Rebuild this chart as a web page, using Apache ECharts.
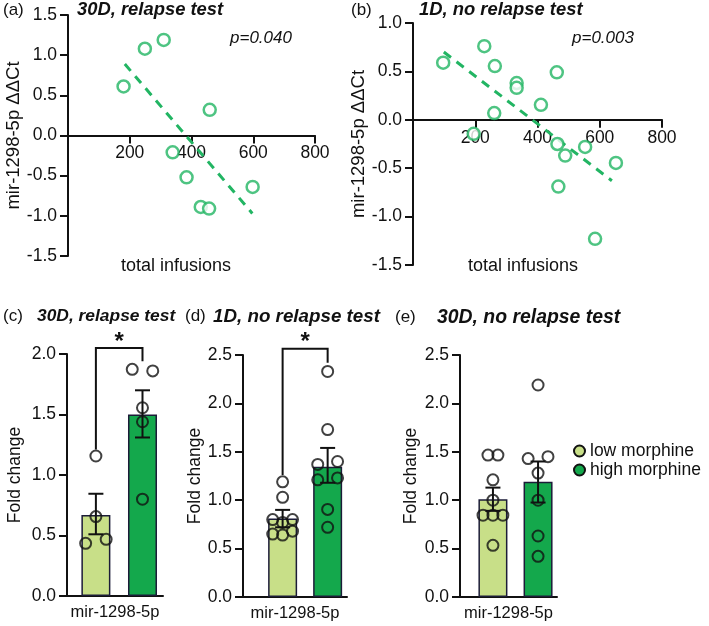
<!DOCTYPE html>
<html>
<head>
<meta charset="utf-8">
<script src="https://cdn.jsdelivr.net/npm/echarts@6/dist/echarts.min.js"></script>
<style>
  html, body { margin: 0; padding: 0; background: #fff; }
  #chart { width: 709px; height: 626px; }
</style>
</head>
<body>
<div id="chart"></div>
<script>
// (a) 30D, relapse test - scatter
const aX = [180, 249, 310, 459, 339, 384, 430, 457, 598];
const aY = [0.61, 1.08, 1.19, 0.32, -0.21, -0.52, -0.89, -0.91, -0.64];
const aFitX = [184, 597];
const aFitY = [0.89, -0.97];

// (b) 1D, no relapse test - scatter
const bX = [97, 229, 263, 333, 333, 261, 195, 411, 462, 464, 489, 467, 553, 652, 585];
const bY = [0.59, 0.76, 0.555, 0.38, 0.33, 0.07, -0.145, 0.155, 0.49, -0.25, -0.37, -0.69, -0.28, -0.445, -1.23];
const bFitX = [99, 639];
const bFitY = [0.70, -0.63];

// bar panels: group 1 = low morphine, group 2 = high morphine
const groups = ['low morphine', 'high morphine'];
const cMean = [0.67, 1.50];
const cSemLo = [0.51, 1.31];
const cSemHi = [0.845, 1.70];
const cLowX = [1, 1, 0.78, 1.22];
const cLowY = [1.157, 0.656, 0.435, 0.468];
const cHighX = [1.78, 2.22, 2, 2, 2];
const cHighY = [1.873, 1.86, 1.556, 1.44, 0.80];

const dMean = [0.81, 1.345];
const dSemLo = [0.72, 1.18];
const dSemHi = [0.90, 1.54];
const dLowX = [1, 1, 0.78, 1.22, 1, 0.78, 1, 1.22];
const dLowY = [1.19, 1.03, 0.80, 0.80, 0.77, 0.65, 0.64, 0.68];
const dHighX = [2, 2, 1.78, 2.22, 1.78, 2.22, 2, 2];
const dHighY = [2.33, 1.73, 1.37, 1.40, 1.21, 1.23, 0.905, 0.72];

const eMean = [1.01, 1.19];
const eSemLo = [0.89, 0.976];
const eSemHi = [1.13, 1.40];
const eLowX = [0.89, 1.11, 1, 1, 0.78, 1, 1.22, 1];
const eLowY = [1.466, 1.466, 1.21, 1.0, 0.845, 0.845, 0.845, 0.534];
const eHighX = [2, 1.78, 2.22, 2, 2, 2, 2];
const eHighY = [2.19, 1.43, 1.45, 1.28, 1.0, 0.63, 0.42];

// significance brackets: [x1, x2, leftBottom, rightBottom, top]
const cBracket = [1, 2, 1.21, 1.94, 2.05];
const dBracket = [1, 2, 1.26, 2.42, 2.565];

const FONT = 'Liberation Sans, Arial, sans-serif';
const INK = '#111';
const scatterGreen = '#22b563';
const lowColor = '#c8df88';
const highColor = '#14a84c';

const zip = (xs, ys) => xs.map((x, i) => [x, ys[i]]);

const axisBase = {
  axisLine: { lineStyle: { color: INK, width: 2 } },
  axisTick: { length: 8, lineStyle: { color: INK, width: 2 } },
  axisLabel: { color: INK, fontSize: 17.5, fontFamily: FONT, margin: 11 },
  splitLine: { show: false },
  nameTextStyle: { color: INK, fontSize: 17.5, fontFamily: FONT }
};
const fmt1 = v => v.toFixed(1);

// x axis of the scatter panels sits on y = 0
function scatterX(idx, gridH, yMin, yMax) {
  return Object.assign({}, axisBase, {
    type: 'value', gridIndex: idx, min: 0, max: 800, interval: 200,
    axisLine: { onZero: false, lineStyle: { color: INK, width: 2 } },
    offset: -gridH * (0 - yMin) / (yMax - yMin),
    axisLabel: Object.assign({}, axisBase.axisLabel, { margin: 9, formatter: v => v === 0 ? '' : v })
  });
}
function yAx(idx, min, max, name, gap, nameSize) {
  return Object.assign({}, axisBase, {
    type: 'value', gridIndex: idx, min: min, max: max, interval: 0.5,
    name: name, nameLocation: 'middle', nameGap: gap,
    nameTextStyle: { color: INK, fontSize: nameSize, fontFamily: FONT },
    axisLabel: Object.assign({}, axisBase.axisLabel, { formatter: fmt1 })
  });
}
function barX(idx, min, max) {
  return Object.assign({}, axisBase, {
    type: 'value', gridIndex: idx, min: min, max: max,
    axisTick: { show: false }, axisLabel: { show: false },
    name: 'mir-1298-5p', nameLocation: 'middle', nameGap: 8,
    nameTextStyle: { color: INK, fontSize: 16.5, fontFamily: FONT }
  });
}

function errRender(params, api) {
  const x = api.value(0);
  const lo = api.coord([x, api.value(1)]);
  const hi = api.coord([x, api.value(2)]);
  const cap = 7.5;
  const style = { stroke: INK, lineWidth: 2 };
  return {
    type: 'group',
    children: [
      { type: 'line', shape: { x1: lo[0], y1: lo[1], x2: hi[0], y2: hi[1] }, style: style },
      { type: 'line', shape: { x1: lo[0] - cap, y1: lo[1], x2: lo[0] + cap, y2: lo[1] }, style: style },
      { type: 'line', shape: { x1: hi[0] - cap, y1: hi[1], x2: hi[0] + cap, y2: hi[1] }, style: style }
    ]
  };
}
function bracketRender(params, api) {
  const p1 = api.coord([api.value(0), api.value(2)]);
  const p2 = api.coord([api.value(0), api.value(4)]);
  const p3 = api.coord([api.value(1), api.value(4)]);
  const p4 = api.coord([api.value(1), api.value(3)]);
  return {
    type: 'group',
    children: [
      { type: 'polyline', shape: { points: [p1, p2, p3, p4] }, style: { stroke: INK, lineWidth: 2, fill: null } },
      { type: 'text', x: (p2[0] + p3[0]) / 2, y: p2[1] + 6,
        style: { text: '*', fill: INK, font: 'bold 24px ' + FONT, align: 'center', verticalAlign: 'bottom' } }
    ]
  };
}

function barPanel(idx, mean, lo, hi, lowX, lowY, highX, highY) {
  return [
    { name: groups[0], type: 'bar', xAxisIndex: idx, yAxisIndex: idx, barWidth: 29, barGap: '-100%',
      data: [[1, mean[0]]], itemStyle: { color: lowColor, borderColor: '#1c1c38', borderWidth: 1.5 }, z: 2 },
    { name: groups[1], type: 'bar', xAxisIndex: idx, yAxisIndex: idx, barWidth: 29, barGap: '-100%',
      data: [[2, mean[1]]], itemStyle: { color: highColor, borderColor: '#1c1c38', borderWidth: 1.5 }, z: 2 },
    { type: 'custom', xAxisIndex: idx, yAxisIndex: idx, renderItem: errRender, z: 3,
      encode: { x: 0, y: [1, 2] },
      data: [[1, lo[0], hi[0]], [2, lo[1], hi[1]]] },
    { type: 'scatter', xAxisIndex: idx, yAxisIndex: idx, symbolSize: 11, z: 4,
      itemStyle: { color: 'rgba(0,0,0,0)', borderColor: INK, borderWidth: 2 },
      data: zip(lowX, lowY).concat(zip(highX, highY)) }
  ];
}

const chart = echarts.init(document.getElementById('chart'));

// [text, left, centerY, weight, style, size]
const labels = [
  ['(a)', 3, 12, 'normal', 'normal', 17], ['30D, relapse test', 77, 12, 'bold', 'italic', 18.4],
  ['p=0.040', 230, 40, 'normal', 'italic', 17],
  ['(b)', 351, 12, 'normal', 'normal', 17], ['1D, no relapse test', 419, 12, 'bold', 'italic', 18.4],
  ['p=0.003', 572, 40, 'normal', 'italic', 17],
  ['(c)', 3, 318, 'normal', 'normal', 17], ['30D, relapse test', 37, 318, 'bold', 'italic', 17.4],
  ['(d)', 185, 318, 'normal', 'normal', 17], ['1D, no relapse test', 213, 318, 'bold', 'italic', 18.8],
  ['(e)', 395, 319, 'normal', 'normal', 17], ['30D, no relapse test', 437, 319, 'bold', 'italic', 19.4],
  ['total infusions', 121, 267, 'normal', 'normal', 18],
  ['total infusions', 468, 267, 'normal', 'normal', 18]
];
const graphicTexts = labels.map(t => ({
  type: 'text', left: t[1], top: t[2] - t[5] * 0.58,
  style: { text: t[0], fill: INK, font: t[4] + ' ' + t[3] + ' ' + t[5] + 'px ' + FONT }
}));

const option = {
  animation: false,
  backgroundColor: '#fff',
  textStyle: { fontFamily: FONT },
  graphic: graphicTexts,
  legend: {
    orient: 'vertical', left: 568, top: 437, itemWidth: 11, itemHeight: 11, itemGap: 1,
    icon: 'circle', data: groups,
    textStyle: { color: INK, fontSize: 17.5, fontFamily: FONT },
    itemStyle: { borderColor: INK, borderWidth: 2 }
  },
  grid: [
    { left: 68, top: 15, width: 247, height: 241 },
    { left: 413, top: 23, width: 249, height: 242 },
    { left: 67, top: 354, width: 96, height: 242 },
    { left: 243, top: 355, width: 104, height: 242 },
    { left: 460, top: 355, width: 97, height: 242 }
  ],
  xAxis: [
    scatterX(0, 241, -1.5, 1.5), scatterX(1, 242, -1.5, 1.0),
    barX(2, 0.38, 2.44), barX(3, 0.12, 2.43), barX(4, 0.27, 2.42)
  ],
  yAxis: [
    yAx(0, -1.5, 1.5, 'mir-1298-5p ΔΔCt', 43, 18.5),
    yAx(1, -1.5, 1.0, 'mir-1298-5p ΔΔCt', 40, 18.5),
    yAx(2, 0, 2.0, 'Fold change', 43, 17.5),
    yAx(3, 0, 2.5, 'Fold change', 35, 17.5),
    yAx(4, 0, 2.5, 'Fold change', 40, 17.5)
  ],
  series: [
    { type: 'scatter', xAxisIndex: 0, yAxisIndex: 0, symbolSize: 12, z: 4,
      itemStyle: { color: '#fff', borderColor: scatterGreen, borderWidth: 2.5 },
      data: zip(aX, aY) },
    { type: 'line', xAxisIndex: 0, yAxisIndex: 0, showSymbol: false, z: 3,
      lineStyle: { color: scatterGreen, width: 3, type: [9, 7] }, data: zip(aFitX, aFitY) },
    { type: 'scatter', xAxisIndex: 1, yAxisIndex: 1, symbolSize: 12, z: 4,
      itemStyle: { color: '#fff', borderColor: scatterGreen, borderWidth: 2.5 },
      data: zip(bX, bY) },
    { type: 'line', xAxisIndex: 1, yAxisIndex: 1, showSymbol: false, z: 3,
      lineStyle: { color: scatterGreen, width: 3, type: [9, 7] }, data: zip(bFitX, bFitY) }
  ]
    .concat(barPanel(2, cMean, cSemLo, cSemHi, cLowX, cLowY, cHighX, cHighY))
    .concat(barPanel(3, dMean, dSemLo, dSemHi, dLowX, dLowY, dHighX, dHighY))
    .concat(barPanel(4, eMean, eSemLo, eSemHi, eLowX, eLowY, eHighX, eHighY))
    .concat([
      { type: 'custom', xAxisIndex: 2, yAxisIndex: 2, renderItem: bracketRender, clip: false,
        encode: { x: [0, 1], y: [2, 3, 4] }, data: [cBracket] },
      { type: 'custom', xAxisIndex: 3, yAxisIndex: 3, renderItem: bracketRender, clip: false,
        encode: { x: [0, 1], y: [2, 3, 4] }, data: [dBracket] }
    ])
};

chart.setOption(option);
</script>
</body>
</html>
